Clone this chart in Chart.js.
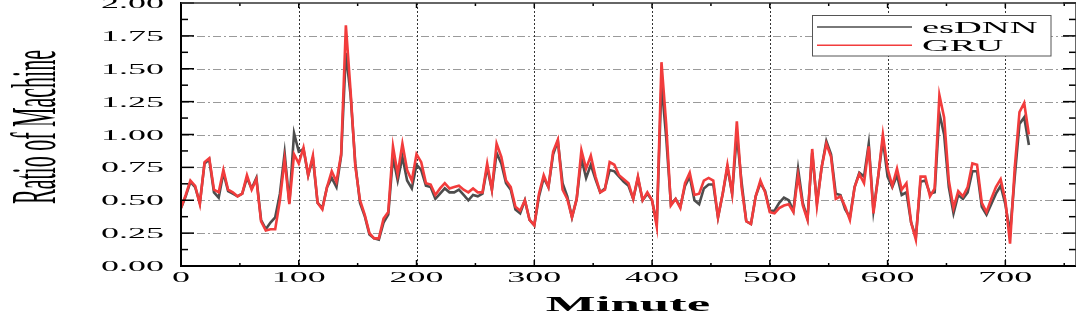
<!DOCTYPE html>
<html>
<head>
<meta charset="utf-8">
<script src="https://cdn.jsdelivr.net/npm/chart.js@4.4.1/dist/chart.umd.min.js"></script>
<style>
  html, body { margin: 0; padding: 0; background: #fff; }
  #wrap { width: 1076px; height: 314px; position: relative; }
</style>
</head>
<body>
<div id="wrap"><canvas id="myChart"></canvas></div>
<script>
// minutes sampled every 4 min
var minutes = [0,4,8,12,16,20,24,28,32,36,40,44,48,52,56,60,64,68,72,76,80,84,88,92,96,
  100,104,108,112,116,120,124,128,132,136,140,144,148,152,156,160,164,168,172,176,180,184,188,192,196,
  200,204,208,212,216,220,224,228,232,236,240,244,248,252,256,260,264,268,272,276,280,284,288,292,296,
  300,304,308,312,316,320,324,328,332,336,340,344,348,352,356,360,364,368,372,376,380,384,388,392,396,
  400,404,408,412,416,420,424,428,432,436,440,444,448,452,456,460,464,468,472,476,480,484,488,492,496,
  500,504,508,512,516,520,524,528,532,536,540,544,548,552,556,560,564,568,572,576,580,584,588,592,596,
  600,604,608,612,616,620,624,628,632,636,640,644,648,652,656,660,664,668,672,676,680,684,688,692,696,
  700,704,708,712,716,720];

var esDNN = [0.44,0.53,0.64,0.60,0.48,0.78,0.81,0.56,0.52,0.71,0.57,0.55,0.53,0.55,0.67,0.59,0.67,0.35,0.28,0.33,
  0.37,0.55,0.86,0.48,1.01,0.87,0.89,0.69,0.82,0.48,0.44,0.60,0.67,0.60,0.84,1.62,1.30,0.78,0.48,0.38,
  0.24,0.21,0.20,0.33,0.39,0.83,0.65,0.83,0.65,0.59,0.77,0.73,0.61,0.60,0.51,0.55,0.59,0.56,0.56,0.58,
  0.54,0.50,0.54,0.53,0.55,0.75,0.58,0.86,0.78,0.63,0.58,0.43,0.40,0.50,0.35,0.31,0.53,0.67,0.60,0.85,
  0.95,0.63,0.53,0.37,0.51,0.82,0.67,0.77,0.66,0.56,0.59,0.73,0.72,0.68,0.64,0.61,0.51,0.67,0.50,0.55,
  0.50,0.32,1.39,0.98,0.47,0.51,0.45,0.61,0.68,0.50,0.47,0.59,0.62,0.62,0.37,0.55,0.75,0.55,1.00,0.64,
  0.34,0.32,0.53,0.63,0.57,0.42,0.42,0.48,0.52,0.50,0.42,0.74,0.48,0.36,0.86,0.48,0.75,0.95,0.85,0.55,
  0.54,0.43,0.37,0.60,0.71,0.68,0.93,0.42,0.68,0.96,0.68,0.60,0.69,0.54,0.56,0.33,0.22,0.64,0.65,0.55,
  0.56,1.16,1.00,0.60,0.40,0.54,0.51,0.56,0.72,0.72,0.45,0.39,0.47,0.55,0.61,0.47,0.25,0.68,1.08,1.13,
  0.92];

var GRU = [0.44,0.54,0.65,0.61,0.47,0.79,0.82,0.58,0.56,0.73,0.58,0.56,0.53,0.55,0.69,0.58,0.66,0.34,0.27,0.28,
  0.28,0.50,0.81,0.47,0.85,0.78,0.90,0.69,0.84,0.48,0.43,0.60,0.72,0.64,0.85,1.83,1.33,0.76,0.50,0.39,
  0.25,0.21,0.21,0.36,0.41,0.91,0.70,0.93,0.73,0.65,0.85,0.79,0.63,0.62,0.54,0.59,0.63,0.59,0.60,0.61,
  0.58,0.56,0.59,0.56,0.56,0.78,0.58,0.93,0.83,0.65,0.60,0.45,0.42,0.50,0.35,0.31,0.55,0.69,0.60,0.87,
  0.96,0.58,0.51,0.37,0.51,0.88,0.74,0.84,0.68,0.56,0.58,0.79,0.77,0.69,0.66,0.63,0.51,0.68,0.50,0.56,
  0.50,0.30,1.55,1.08,0.46,0.51,0.44,0.63,0.71,0.54,0.55,0.65,0.67,0.65,0.37,0.55,0.77,0.55,1.10,0.60,
  0.34,0.32,0.53,0.65,0.56,0.41,0.40,0.44,0.46,0.47,0.41,0.69,0.46,0.35,0.89,0.46,0.75,0.93,0.83,0.51,
  0.53,0.45,0.35,0.60,0.70,0.63,0.91,0.40,0.68,1.00,0.74,0.61,0.74,0.58,0.63,0.33,0.20,0.68,0.68,0.53,
  0.59,1.30,1.13,0.65,0.44,0.57,0.53,0.60,0.78,0.77,0.48,0.41,0.51,0.60,0.66,0.50,0.17,0.75,1.17,1.24,
  1.00];

var xTickLabels = ['0', '100', '200', '300', '400', '500', '600', '700'];
var yTickLabels = ['0.00', '0.25', '0.50', '0.75', '1.00', '1.25', '1.50', '1.75', '2.00'];

var SERIF = '"Liberation Serif", "Times New Roman", serif';

// the source figure is stretched sideways, so text is drawn widened
function wideText(ctx, text, x, y, sx, align) {
  ctx.save();
  ctx.translate(x, y);
  ctx.scale(sx, 1);
  ctx.textAlign = align;
  ctx.textBaseline = 'alphabetic';
  ctx.fillText(text, 0, 0);
  ctx.restore();
}

function line(ctx, x0, y0, x1, y1) {
  ctx.beginPath();
  ctx.moveTo(x0, y0);
  ctx.lineTo(x1, y1);
  ctx.stroke();
}

function minors(labels, maxVal) {
  var vals = labels.map(parseFloat), out = [];
  var step = vals[1] - vals[0];
  for (var i = 0; i < vals.length; i++) {
    var m = vals[i] + step / 2;
    if (m <= maxVal) out.push(m);
  }
  return out;
}

var framePlugin = {
  id: 'frame',
  beforeDatasetsDraw: function (chart) {
    var ctx = chart.ctx, a = chart.chartArea, x = chart.scales.x, y = chart.scales.y;
    ctx.save();
    ctx.lineWidth = 1;
    ctx.strokeStyle = '#9a9a9a';
    ctx.setLineDash([8, 3, 2, 3]);
    yTickLabels.forEach(function (l) {
      var v = parseFloat(l);
      if (v <= y.min || v >= y.max) return;
      var py = Math.round(y.getPixelForValue(v)) + 0.5;
      line(ctx, a.left, py, a.right, py);
    });
    ctx.strokeStyle = '#333';
    ctx.setLineDash([2, 2]);
    xTickLabels.forEach(function (l) {
      var v = parseFloat(l);
      if (v <= x.min) return;
      var px = Math.round(x.getPixelForValue(v)) + 0.5;
      line(ctx, px, a.top, px, a.bottom);
    });
    ctx.restore();
  },
  afterDatasetsDraw: function (chart) {
    var ctx = chart.ctx, a = chart.chartArea, x = chart.scales.x, y = chart.scales.y;
    ctx.save();
    ctx.setLineDash([]);

    // axis ticks, inward on all four sides
    ctx.strokeStyle = '#000';
    ctx.lineWidth = 1.5;
    yTickLabels.forEach(function (l) {
      var py = y.getPixelForValue(parseFloat(l));
      line(ctx, a.left, py, a.left + 13, py);
      line(ctx, a.right, py, a.right - 13, py);
    });
    minors(yTickLabels, y.max).forEach(function (v) {
      var py = y.getPixelForValue(v);
      line(ctx, a.left, py, a.left + 7, py);
      line(ctx, a.right, py, a.right - 7, py);
    });
    xTickLabels.forEach(function (l) {
      var px = x.getPixelForValue(parseFloat(l));
      line(ctx, px, a.bottom, px, a.bottom - 6);
      line(ctx, px, a.top, px, a.top + 5);
    });
    minors(xTickLabels, x.max).forEach(function (v) {
      var px = x.getPixelForValue(v);
      line(ctx, px, a.bottom, px, a.bottom - 3);
      line(ctx, px, a.top, px, a.top + 3);
    });

    // frame
    ctx.lineWidth = 2;
    line(ctx, a.left, a.top - 1, a.left, a.bottom + 1);
    line(ctx, a.left - 1, a.bottom, a.right, a.bottom);
    ctx.lineWidth = 1.5;
    ctx.strokeStyle = '#333';
    line(ctx, a.left, a.top, a.right, a.top);
    line(ctx, a.right, a.top, a.right, a.bottom);

    // tick labels
    ctx.fillStyle = '#000';
    ctx.font = '15px ' + SERIF;
    yTickLabels.forEach(function (l) {
      wideText(ctx, l, 164, y.getPixelForValue(parseFloat(l)) + 5, 2.4, 'right');
    });
    xTickLabels.forEach(function (l) {
      wideText(ctx, l, x.getPixelForValue(parseFloat(l)), 282, 2.4, 'center');
    });

    // axis titles
    ctx.font = 'bold 22px ' + SERIF;
    wideText(ctx, 'Minute', 628, 311, 2.4, 'center');
    ctx.save();
    ctx.font = '22px ' + SERIF;
    ctx.translate(55, 127);
    ctx.scale(2.85, 1);
    ctx.rotate(-Math.PI / 2);
    ctx.textAlign = 'center';
    ctx.textBaseline = 'alphabetic';
    ctx.fillText('Ratio of Machine', 0, 0);
    ctx.restore();

    // legend
    ctx.fillStyle = '#fff';
    ctx.fillRect(812.5, 15.5, 238.5, 40.5);
    ctx.strokeStyle = '#555';
    ctx.lineWidth = 1;
    ctx.strokeRect(812.5, 15.5, 238.5, 40.5);
    ctx.font = '17.5px ' + SERIF;
    chart.data.datasets.forEach(function (ds, i) {
      var ly = 27 + i * 18.2;
      ctx.strokeStyle = ds.borderColor;
      ctx.lineWidth = 1.5;
      line(ctx, 817, ly, 912, ly);
      ctx.fillStyle = '#000';
      wideText(ctx, ds.label, 922, 32.7 + i * 18.7, 2.2, 'left');
    });
    ctx.restore();
  }
};

var ctx = document.getElementById('myChart').getContext('2d');
var myChart = new Chart(ctx, {
  type: 'line',
  data: {
    labels: minutes,
    datasets: [{
      label: 'esDNN',
      data: esDNN,
      borderColor: '#4d4d4d',
      backgroundColor: '#4d4d4d',
      borderWidth: 2.6,
      pointRadius: 0,
      tension: 0,
      fill: false,
      order: 1
    },
    {
      label: 'GRU',
      data: GRU,
      borderColor: '#f23c3c',
      backgroundColor: '#f23c3c',
      borderWidth: 2.6,
      pointRadius: 0,
      tension: 0,
      fill: false,
      order: 0
    }]
  },
  options: {
    responsive: true,
    maintainAspectRatio: false,
    animation: false,
    devicePixelRatio: 1,
    layout: { padding: { left: 181, top: 3, right: -2, bottom: 48 } },
    plugins: {
      legend: { display: false },
      tooltip: { enabled: false }
    },
    scales: {
      x: {
        type: 'linear',
        display: false,
        min: 0,
        max: 760,
        ticks: { stepSize: 100 }
      },
      y: {
        display: false,
        min: 0,
        max: 2,
        ticks: { stepSize: 0.25 }
      }
    }
  },
  plugins: [framePlugin]
});
</script>
</body>
</html>
